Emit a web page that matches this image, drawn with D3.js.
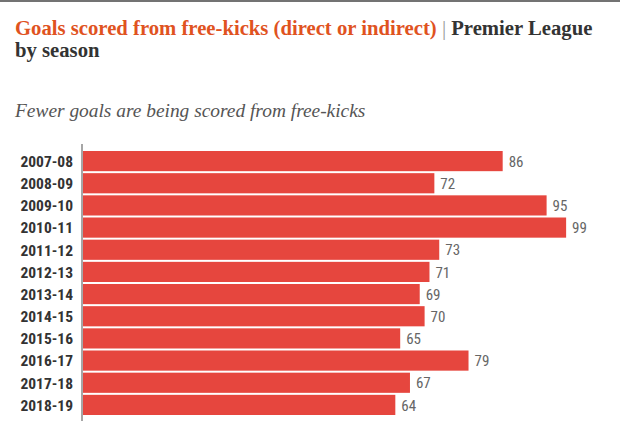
<!DOCTYPE html>
<html>
<head>
<meta charset="utf-8">
<script src="https://cdn.jsdelivr.net/npm/d3@7"></script>
<style>
  body { margin: 0; background: #fff; }
  svg { display: block; }
</style>
</head>
<body>
<div id="chart"></div>
<script>
var seasons = ["2007-08", "2008-09", "2009-10", "2010-11", "2011-12", "2012-13",
               "2013-14", "2014-15", "2015-16", "2016-17", "2017-18", "2018-19"];
var goals = [86, 72, 95, 99, 73, 71, 69, 70, 65, 79, 67, 64];

var width = 624, height = 423;
var margin = {top: 151, left: 83};
var serif = "'Liberation Serif', 'Times New Roman', serif";
var sans = "'Roboto Condensed', 'Liberation Sans Narrow', sans-serif";

var svg = d3.select("#chart").append("svg")
    .attr("width", width)
    .attr("height", height);

// rule across the top
svg.append("line")
    .attr("x1", 0).attr("x2", 620)
    .attr("y1", 1).attr("y2", 1)
    .attr("stroke", "#444").attr("stroke-width", 1.5);

var title = svg.append("text")
    .attr("x", 15).attr("y", 35)
    .style("font-family", serif)
    .style("font-weight", "bold")
    .style("font-size", "20.7px");
title.append("tspan").attr("fill", "#e0531f").text("Goals scored from free-kicks (direct or indirect)");
title.append("tspan").attr("fill", "#999").style("font-weight", "normal").text(" | ");
title.append("tspan").attr("fill", "#333").text("Premier League");

svg.append("text")
    .attr("x", 15).attr("y", 57)
    .style("font-family", serif)
    .style("font-weight", "bold")
    .style("font-size", "20.7px")
    .attr("fill", "#333")
    .text("by season");

svg.append("text")
    .attr("x", 15).attr("y", 117)
    .style("font-family", serif)
    .style("font-style", "italic")
    .style("font-size", "19.4px")
    .attr("fill", "#555")
    .text("Fewer goals are being scored from free-kicks");

var x = d3.scaleLinear()
    .domain([0, 100])
    .range([margin.left, margin.left + 488]);

var y = d3.scaleBand()
    .domain(seasons)
    .range([margin.top, margin.top + 22 * seasons.length])
    .paddingInner(0.09)
    .paddingOuter(0);

var data = seasons.map(function (s, i) { return {season: s, value: goals[i]}; });

svg.selectAll(".bar")
    .data(data)
    .enter().append("rect")
    .attr("class", "bar")
    .attr("x", x(0))
    .attr("y", function (d) { return y(d.season); })
    .attr("width", function (d) { return x(d.value) - x(0); })
    .attr("height", y.bandwidth())
    .attr("fill", "#e6463e");

svg.selectAll(".val")
    .data(data)
    .enter().append("text")
    .attr("class", "val")
    .attr("x", function (d) { return x(d.value) + 6; })
    .attr("y", function (d) { return y(d.season) + y.bandwidth() / 2; })
    .attr("dy", "0.38em")
    .style("font-family", sans)
    .style("font-size", "15px")
    .attr("fill", "#666")
    .text(function (d) { return d.value; });

var yAxis = svg.append("g")
    .attr("transform", "translate(" + x(0) + ",0)")
    .call(d3.axisLeft(y).tickSize(0).tickPadding(10));

yAxis.select(".domain").remove();
yAxis.selectAll("text")
    .attr("dy", "0.38em")
    .style("font-family", sans)
    .style("font-size", "15.5px")
    .style("font-weight", "bold")
    .attr("fill", "#333");

svg.append("line")
    .attr("x1", 82).attr("x2", 82)
    .attr("y1", 144).attr("y2", 421)
    .attr("stroke", "#888").attr("stroke-width", 1.5);
</script>
</body>
</html>
